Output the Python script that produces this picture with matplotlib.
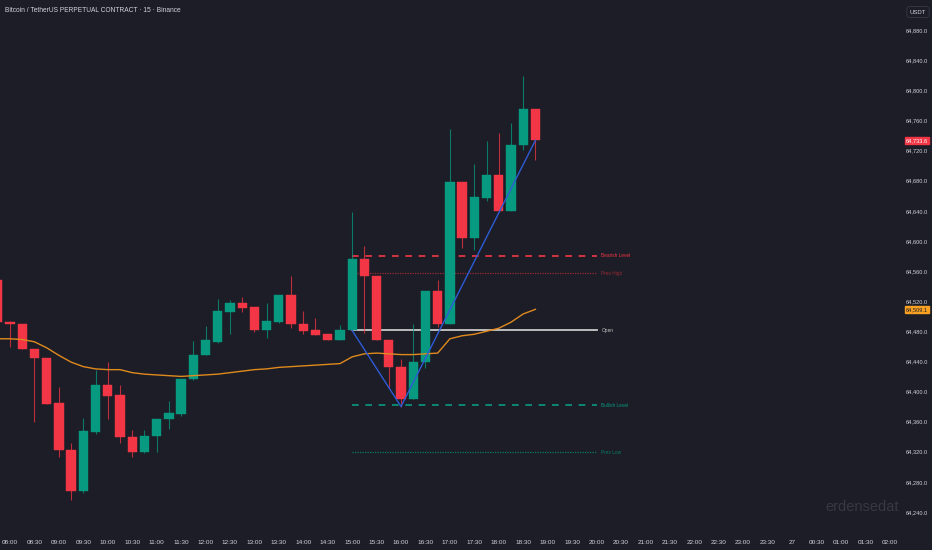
import matplotlib
matplotlib.use("Agg")
import matplotlib.pyplot as plt
from matplotlib.patches import Rectangle

# 15m candles, index 0 = 08:00 (index -1 = 07:45)
idx = list(range(-1, 44))
opens = [64548, 64492, 64490, 64456, 64445, 64385, 64322, 64268, 64346, 64408,
         64395, 64340, 64319, 64341, 64364, 64370, 64416, 64449, 64466, 64506,
         64518, 64512, 64482, 64492, 64528, 64490, 64482, 64477, 64468, 64481,
         64576, 64553, 64469, 64433, 64390, 64439, 64534, 64490, 64678, 64604,
         64657, 64687, 64640, 64727, 64775]
highs = [64552, 64494, 64490, 64456, 64445, 64406, 64331, 64365, 64428, 64439,
         64409, 64349, 64349, 64364, 64387, 64416, 64467, 64487, 64523, 64521,
         64525, 64512, 64518, 64528, 64553, 64507, 64498, 64477, 64488, 64639,
         64593, 64553, 64469, 64443, 64490, 64534, 64548, 64748, 64678, 64702,
         64733, 64744, 64757, 64819, 64775]
lows = [64490, 64459, 64456, 64359, 64384, 64313, 64256, 64265, 64344, 64364,
        64331, 64313, 64318, 64319, 64350, 64367, 64415, 64448, 64464, 64476,
        64506, 64479, 64471, 64491, 64484, 64476, 64475, 64468, 64468, 64480,
        64478, 64469, 64406, 64380, 64390, 64431, 64486, 64490, 64590, 64588,
        64653, 64640, 64640, 64721, 64707]
closes = [64492, 64489, 64456, 64445, 64384, 64322, 64268, 64347, 64408, 64394,
          64339, 64319, 64341, 64364, 64371, 64416, 64449, 64468, 64507, 64518,
          64511, 64482, 64493, 64528, 64490, 64480, 64475, 64468, 64481, 64576,
          64553, 64469, 64433, 64390, 64439, 64534, 64490, 64678, 64604, 64658,
          64687, 64640, 64727, 64775, 64733.6]
ema = [64470, 64470, 64469, 64466, 64458, 64448, 64439, 64433, 64430, 64429,
       64429, 64425, 64423, 64422, 64421, 64420, 64421, 64422, 64423, 64425,
       64427, 64429, 64430, 64432, 64433, 64434, 64435, 64436, 64437, 64446,
       64450, 64451, 64450, 64449, 64449, 64450, 64451, 64470, 64474, 64476,
       64480, 64484, 64492, 64503, 64509.1]

# zigzag (candle index, price)
zz_x = [28, 32, 43]
zz_y = [64481, 64380, 64733.6]

# key levels
level_names = ["Bearish Level", "Prev High", "Open", "Bullish Level", "Prev Low"]
level_prices = [64580, 64557, 64481, 64382, 64319]
level_start, level_end = 28, 48

price_ticks = list(range(64240, 64881, 40))
time_tick_pos = list(range(0, 73, 2))
time_tick_labels = ["08:00", "08:30", "09:00", "09:30", "10:00", "10:30", "11:00", "11:30",
                    "12:00", "12:30", "13:00", "13:30", "14:00", "14:30", "15:00", "15:30",
                    "16:00", "16:30", "17:00", "17:30", "18:00", "18:30", "19:00", "19:30",
                    "20:00", "20:30", "21:00", "21:30", "22:00", "22:30", "23:00", "23:30",
                    "27", "00:30", "01:00", "01:30", "02:00"]

BG = "#1c1d26"
UP = "#089981"
DN = "#f23645"
TXT = "#d1d4dc"
level_styles = {
    "Bearish Level": dict(color=DN, ls=(0, (4, 4)), lw=1.2),
    "Prev High": dict(color="#9a2a35", ls=(0, (1, 1)), lw=0.9),
    "Open": dict(color="#c8c8c8", ls="-", lw=1.3),
    "Bullish Level": dict(color=UP, ls=(0, (4, 4)), lw=1.2),
    "Prev Low": dict(color="#0b7a68", ls=(0, (1, 1)), lw=0.9),
}

plt.rcParams['font.family'] = ['Liberation Sans', 'DejaVu Sans']

fig = plt.figure(figsize=(9.32, 5.5), dpi=100, facecolor=BG)
ax = fig.add_axes([0, 20 / 550, 902 / 932, 530 / 550], facecolor=BG)

body_w = 0.76
for i, o, h, l, c in zip(idx, opens, highs, lows, closes):
    col = UP if c >= o else DN
    ax.plot([i, i], [l, h], color=col, lw=0.8, alpha=0.75, zorder=3, solid_capstyle="butt")
    ax.add_patch(Rectangle((i - body_w / 2, min(o, c)), body_w, max(abs(c - o), 0.8),
                           facecolor=col, edgecolor=col, lw=0.3, zorder=4))

ax.plot(idx, ema, color="#e08a1e", lw=1.0, zorder=5)

for name, p in zip(level_names, level_prices):
    st = level_styles[name]
    ax.plot([level_start, level_end], [p, p], zorder=2, **st)
    ax.text(level_end + 0.4, p, name, color=st["color"], fontsize=3.4, va="center", ha="left")

ax.plot(zz_x, zz_y, color="#2e5bd6", lw=1.0, zorder=6)

ax.set_xlim(-0.82, 73.0)
ax.set_ylim(64216, 64920)
for s in ax.spines.values():
    s.set_visible(False)

ax.yaxis.tick_right()
ax.set_yticks(price_ticks)
ax.set_yticklabels([f"{p:,.1f}" for p in price_ticks])
ax.set_xticks(time_tick_pos)
ax.set_xticklabels(time_tick_labels)
ax.tick_params(axis="both", length=0, colors=TXT, labelsize=4.6)
ax.tick_params(axis="y", pad=3, labelsize=4.1)
ax.tick_params(axis="x", pad=7)

# price tags for last close and ema
for val, col, tc in [(closes[-1], DN, "white"), (ema[-1], "#f7a021", "#1c1d26")]:
    ax.annotate(f"{val:,.1f}", xy=(1.0, val), xycoords=("axes fraction", "data"),
                xytext=(3, 0), textcoords="offset points", fontsize=4.1, color=tc,
                va="center", ha="left",
                bbox=dict(boxstyle="square,pad=0.2", fc=col, ec=col))

fig.text(5 / 932, 1 - 10 / 550, "Bitcoin / TetherUS PERPETUAL CONTRACT · 15 · Binance",
         color=TXT, fontsize=4.8, va="center", ha="left")
fig.text(918 / 932, 1 - 12 / 550, "USDT", color=TXT, fontsize=4.3, va="center", ha="center",
         bbox=dict(boxstyle="round,pad=0.5", fc=BG, ec="#363a45", lw=0.6))
fig.text(862 / 932, 1 - 507 / 550, "erdensedat", color="#363843", fontsize=10.5,
         va="center", ha="center")

fig.savefig("out.png", dpi=100, facecolor=BG)
